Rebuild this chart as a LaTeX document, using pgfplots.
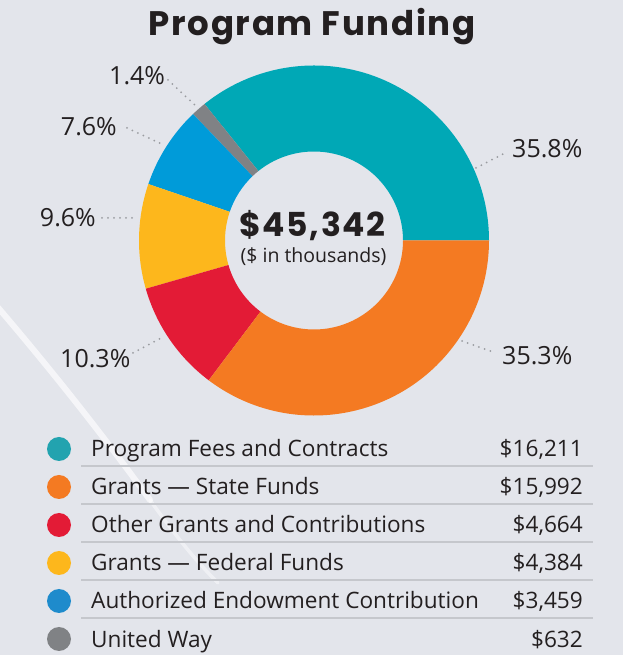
\documentclass[border=0pt]{standalone}
\usepackage{pgfplots}
\pgfplotsset{compat=1.18}
\usepackage{pgfplotstable}
\usepackage{fontspec}
\setmainfont{Open Sans}
\newfontfamily\popfont[LetterSpace=5]{Poppins}
\definecolor{bg}{HTML}{E3E5EB}
\definecolor{cteal}{HTML}{00A8B6}
\definecolor{corange}{HTML}{F47A22}
\definecolor{cred}{HTML}{E31B36}
\definecolor{cyellow}{HTML}{FDB71C}
\definecolor{cblue}{HTML}{009BD9}
\definecolor{cgray}{HTML}{808285}
\definecolor{lteal}{HTML}{22A3AF}
\definecolor{lblue}{HTML}{1E8BCC}
\definecolor{txt}{HTML}{231F20}
\definecolor{sep}{HTML}{C5C7CC}
\definecolor{dots}{HTML}{9A9CA0}

\pgfplotstableread[col sep=comma]{
label,value,pct
Program Fees and Contracts,16211,35.8
Grants State Funds,15992,35.3
Other Grants and Contributions,4664,10.3
Grants Federal Funds,4384,9.6
Authorized Endowment Contribution,3459,7.6
United Way,632,1.4
}\funding

\newcommand\cx{314}
\newcommand\cy{414.5}
\newcommand\slice[3]{%
  \fill[#1] ([shift={(#2:175)}]axis cs:\cx,\cy) arc[start angle=#2,end angle=#3,radius=175]
    -- ([shift={(#3:89)}]axis cs:\cx,\cy) arc[start angle=#3,end angle=#2,radius=89] -- cycle;}
\newcommand\lfont{\fontsize{22.6}{22.6}\selectfont}
\newcommand\pfont{\fontsize{25}{25}\selectfont}

\begin{document}
\begin{tikzpicture}
\pgfplotstablegetelem{0}{value}\of\funding\edef\vA{\pgfplotsretval}
\pgfplotstablegetelem{1}{value}\of\funding\edef\vB{\pgfplotsretval}
\pgfplotstablegetelem{2}{value}\of\funding\edef\vC{\pgfplotsretval}
\pgfplotstablegetelem{3}{value}\of\funding\edef\vD{\pgfplotsretval}
\pgfplotstablegetelem{4}{value}\of\funding\edef\vE{\pgfplotsretval}
\pgfplotstablegetelem{5}{value}\of\funding\edef\vF{\pgfplotsretval}
\edef\tot{\fpeval{\vA+\vB+\vC+\vD+\vE+\vF}}
\edef\angA{0}
\edef\angB{\fpeval{360*\vA/\tot}}
\edef\angC{\fpeval{\angB+360*\vF/\tot}}
\edef\angD{\fpeval{\angC+360*\vE/\tot}}
\edef\angE{\fpeval{\angD+360*\vD/\tot}}
\edef\angF{\fpeval{\angE+360*\vC/\tot}}
\edef\angG{360}
\begin{axis}[x=1pt,y=1pt,xmin=0,xmax=623,ymin=0,ymax=655,hide axis,clip=false,
  enlargelimits=false]
\fill[bg] (axis cs:0,0) rectangle (axis cs:623,655);
% swoosh
\draw[overlay,white,opacity=0.65,line width=6pt,line cap=round] (axis cs:-5,351) .. controls (axis cs:60,275) and (axis cs:110,210) .. (axis cs:150,155);
\draw[overlay,white,opacity=0.45,line width=3.5pt,line cap=round] (axis cs:150,155) .. controls (axis cs:175,120) and (axis cs:195,95) .. (axis cs:218,72);
% donut
\slice{cteal}{\angA}{\angB}
\slice{cgray}{\angB}{\angC}
\slice{cblue}{\angC}{\angD}
\slice{cyellow}{\angD}{\angE}
\slice{cred}{\angE}{\angF}
\slice{corange}{\angF}{\angG}
% title
\node[anchor=base,text=txt,font=\popfont\fontsize{34}{34}\selectfont\bfseries] at (axis cs:312,619) {Program Funding};
\node[anchor=base,text=txt,font=\popfont\fontsize{33}{33}\selectfont\bfseries] at (axis cs:312.5,418) {\$45,342};
\node[anchor=base,text=txt,font=\fontsize{19.5}{19.5}\selectfont] at (axis cs:313.5,392) {(\$ in thousands)};
% leaders
\begin{scope}[dots,line width=2pt,line cap=round,dash pattern=on 0pt off 6pt]
\draw (axis cs:476,487) -- (axis cs:507,503);
\draw (axis cs:462,314) -- (axis cs:493,303);
\draw (axis cs:168,575) -- (axis cs:197,548);
\draw (axis cs:127,527) -- (axis cs:164,510);
\draw (axis cs:102,437) -- (axis cs:133,437);
\draw (axis cs:133,302) -- (axis cs:163,318);
\end{scope}
% percent labels
\node[anchor=base west,inner sep=0pt,text=txt,font=\pfont] at (axis cs:512,497) {35.8\%};
\node[anchor=base west,inner sep=0pt,text=txt,font=\pfont] at (axis cs:502,290) {35.3\%};
\node[anchor=base west,inner sep=0pt,text=txt,font=\pfont] at (axis cs:109,570) {1.4\%};
\node[anchor=base east,inner sep=0pt,text=txt,font=\pfont] at (axis cs:117,519) {7.6\%};
\node[anchor=base east,inner sep=0pt,text=txt,font=\pfont] at (axis cs:96,428) {9.6\%};
\node[anchor=base west,inner sep=0pt,text=txt,font=\pfont] at (axis cs:60,287) {10.3\%};
% legend
\pgfplotsinvokeforeach{189,151,113,75,37}{\draw[sep,line width=1.5pt] (axis cs:81,#1) -- (axis cs:593,#1);}
\fill[lteal] (axis cs:59,206) circle[radius=12];
\fill[corange] (axis cs:59,168) circle[radius=12];
\fill[cred] (axis cs:59,130) circle[radius=12];
\fill[cyellow] (axis cs:59,92) circle[radius=12];
\fill[lblue] (axis cs:59,54) circle[radius=12];
\fill[cgray] (axis cs:59,16) circle[radius=12];
\node[anchor=base west,inner sep=0pt,text=txt,font=\lfont] at (axis cs:91,198) {Program Fees and Contracts};
\node[anchor=base west,inner sep=0pt,text=txt,font=\lfont] at (axis cs:91,160) {Grants --- State Funds};
\node[anchor=base west,inner sep=0pt,text=txt,font=\lfont] at (axis cs:91,122) {Other Grants and Contributions};
\node[anchor=base west,inner sep=0pt,text=txt,font=\lfont] at (axis cs:91,84) {Grants --- Federal Funds};
\node[anchor=base west,inner sep=0pt,text=txt,font=\lfont] at (axis cs:91,46) {Authorized Endowment Contribution};
\node[anchor=base west,inner sep=0pt,text=txt,font=\lfont] at (axis cs:91,8) {United Way};
\node[anchor=base east,inner sep=0pt,text=txt,font=\lfont] at (axis cs:583,198) {\$16,211};
\node[anchor=base east,inner sep=0pt,text=txt,font=\lfont] at (axis cs:583,160) {\$15,992};
\node[anchor=base east,inner sep=0pt,text=txt,font=\lfont] at (axis cs:583,122) {\$4,664};
\node[anchor=base east,inner sep=0pt,text=txt,font=\lfont] at (axis cs:583,84) {\$4,384};
\node[anchor=base east,inner sep=0pt,text=txt,font=\lfont] at (axis cs:583,46) {\$3,459};
\node[anchor=base east,inner sep=0pt,text=txt,font=\lfont] at (axis cs:583,8) {\$632};
\end{axis}
\end{tikzpicture}
\end{document}
